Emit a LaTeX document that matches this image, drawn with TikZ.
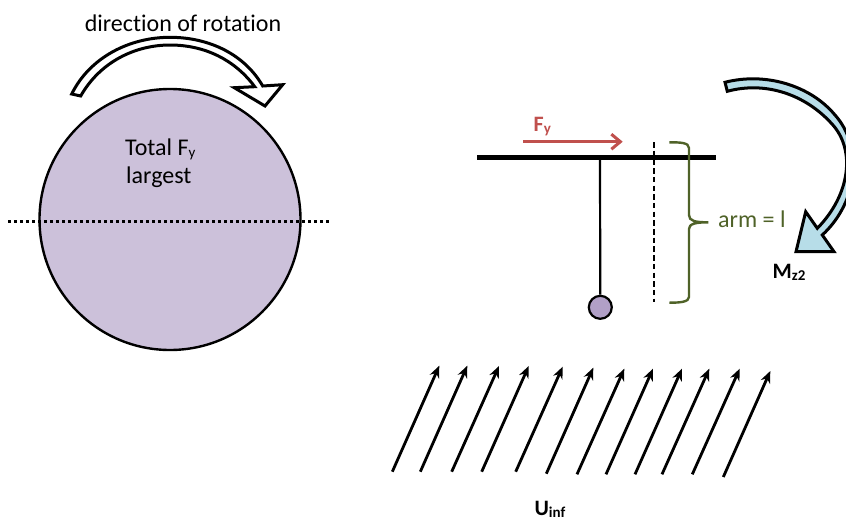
\documentclass[tikz,border=0pt]{standalone}
\usepackage{fontspec}
\setmainfont{Carlito}[Ligatures=NoCommon]
\usetikzlibrary{arrows.meta}
\definecolor{discfill}{HTML}{CCC1DA}
\definecolor{bobfill}{HTML}{B1A0C7}
\definecolor{momfill}{HTML}{B7DDE8}
\definecolor{armgreen}{HTML}{4F6228}
\definecolor{forcered}{HTML}{C0504D}
\newcommand{\lowsub}[2]{\raisebox{-0.1em}{\fontsize{#1}{#1}\selectfont #2}}
\tikzset{
  lab/.style={inner sep=0pt,font=\fontsize{24}{28}\selectfont},
  boldlab/.style={inner sep=0pt,font=\fontsize{22}{24}\selectfont\bfseries},
  wind/.style={line width=2.8pt,-{Stealth[length=12pt,width=10pt]}},
  outlined/.style={draw=black,line width=3pt,line join=miter}
}
\begin{document}
\begin{tikzpicture}[x=1pt,y=-1pt]
\useasboundingbox (0,0) rectangle (846,520);
\clip (0,0) rectangle (846,520);
% disc
\node[circle,draw=black,line width=2.4pt,fill=discfill,minimum size=261pt,inner sep=0pt] (disc) at (170,219.5) {};
\coordinate (axisL) at (8,221);
\coordinate (axisR) at (329,221);
\draw[line width=3pt,dash pattern=on 3pt off 3pt] (axisL) -- (axisR);
\node[lab,anchor=base] (rot) at (183,31) {direction of rotation};
\node[lab,anchor=base west] (tot) at (125,155) {Total F\lowsub{15}{y}};
\node[lab,anchor=base west] (lar) at (126,183) {largest};
% rotation arrow
\draw[outlined,fill=white] (71.7,94)
  .. controls (90,57) and (130,37.3) .. (170,37.3)
  .. controls (210,37.3) and (245,55) .. (262.7,86)
  -- (282.7,84.7) -- (265,106) -- (234.3,87.7) -- (254.7,86.7)
  .. controls (235,60) and (205,45) .. (170,45)
  .. controls (135,45) and (100,62) .. (80.7,96) -- cycle;
% moment arrow
\draw[outlined,fill=momfill] (725,82.3)
  .. controls (765,72) and (810,85) .. (835,115)
  .. controls (862,145) and (860,200) .. (822.3,235)
  -- (834,251.7) -- (796,251.7) -- (805.7,211.7) -- (817.3,228.3)
  .. controls (850,195) and (856,150) .. (832,124)
  .. controls (805,94) and (765,81) .. (727.3,91.3) -- cycle;
\node[boldlab,anchor=base] (mz) at (789,278) {M\lowsub{15}{z2}};
% pendulum
\coordinate (barL) at (477,157.3);
\coordinate (barR) at (716,157.3);
\coordinate (hub) at (600,157.3);
\node[circle,draw=black,line width=2.2pt,fill=bobfill,minimum size=23pt,inner sep=0pt] (bob) at (600.3,307.3) {};
\draw[line width=2.2pt] (hub) -- (bob);
\draw[line width=4.4pt] (barL) -- (barR);
\coordinate (dashT) at (654,142);
\coordinate (dashB) at (654,302);
\draw[line width=2.1pt,dash pattern=on 5.5pt off 3.2pt] (dashT) -- (dashB);
% force
\coordinate (fS) at (523.3,141.7);
\coordinate (fE) at (622.7,141.7);
\draw[forcered,line width=3pt,-{Straight Barb[length=9pt,width=15pt]}] (fS) -- (fE);
\node[boldlab,anchor=base west,text=forcered] (fy) at (533.5,131) {F\lowsub{15}{y}};
% brace
\draw[armgreen,line width=2.4pt] (669.3,142.3)
  .. controls (680,142.3) and (689,142.5) .. (689,148)
  -- (689,215) .. controls (689,221) and (695,222.3) .. (708.3,222.3)
  .. controls (695,222.3) and (689,224) .. (689,229)
  -- (689,297) .. controls (689,302) and (680,302.7) .. (669.3,302.7);
\node[lab,anchor=base west,text=armgreen] (arm) at (718,227) {arm = l};
% wind arrows
\foreach \i/\ax/\ay/\bx/\by in {
 a/392.3/471.7/439.3/365.7, b/420.3/471.7/467.3/365.7, c/451.7/471.7/499/366,
 d/481.7/471.7/528.7/366, e/515.7/471.7/562.7/366.7, f/546.3/473.7/593.3/367.7,
 g/577/474.3/624.3/368.7, h/606/474.3/653/368.7, i/635/474.3/682/368.7,
 j/662/474.3/709.3/368.7, k/692.3/474.3/739.7/368.7, l/723.3/477/770.3/371}{
  \coordinate (s\i) at (\ax,\ay);
  \coordinate (t\i) at (\bx,\by);
  \draw[wind] (s\i) -- (t\i);
}
\node[boldlab,anchor=base] (u) at (550,515) {U\lowsub{15}{inf}};
\end{tikzpicture}
\end{document}
